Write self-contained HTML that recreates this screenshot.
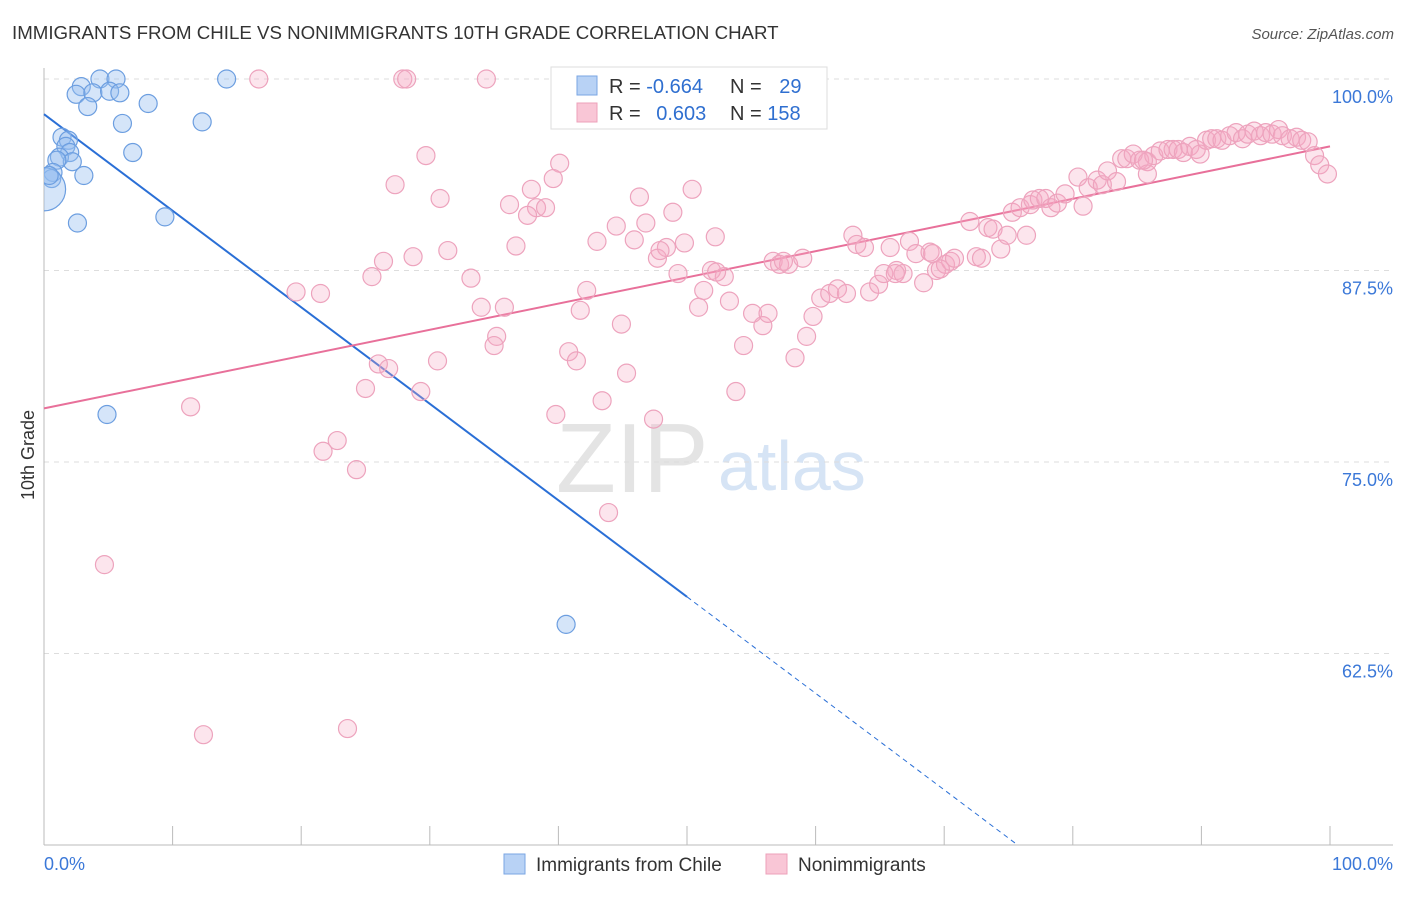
<!DOCTYPE html>
<html><head><meta charset="utf-8"><style>
body{margin:0;background:#fff;font-family:"Liberation Sans",sans-serif;}
svg text{font-family:"Liberation Sans",sans-serif;}
</style></head><body>
<svg id="chart" width="1406" height="892">
<defs><clipPath id="plotclip"><rect x="44" y="0" width="1362" height="845"/></clipPath></defs>
<text x="12" y="39" font-size="18.7" fill="#333">IMMIGRANTS FROM CHILE VS NONIMMIGRANTS 10TH GRADE CORRELATION CHART</text>
<text x="1394" y="39" font-size="15" fill="#555" text-anchor="end" font-style="italic">Source: ZipAtlas.com</text>
<text x="556" y="492" font-size="98" fill="#e4e4e4" font-family="Liberation Serif">ZIP</text>
<text x="718" y="490" font-size="70" fill="#d6e4f5">atlas</text>
<g id="grid"></g><g id="axes"></g><g id="lines"></g><g id="pts" clip-path="url(#plotclip)"></g>
<text transform="translate(34,455) rotate(-90)" font-size="18" fill="#333" text-anchor="middle">10th Grade</text>
<g>
<rect x="551" y="67" width="276" height="62" fill="#fff" stroke="#ddd"/>
<rect x="577" y="76" width="20" height="19" fill="#b8d2f5" stroke="#7aa6e3"/>
<rect x="577" y="103" width="20" height="19" fill="#f9c6d6" stroke="#eda0ba"/>
<text x="609" y="93" font-size="20" fill="#333">R = <tspan fill="#2f6fd0">-0.664</tspan></text>
<text x="730" y="93" font-size="20" fill="#333">N = <tspan fill="#2f6fd0" dx="12">29</tspan></text>
<text x="609" y="120" font-size="20" fill="#333">R = <tspan fill="#2f6fd0" dx="10">0.603</tspan></text>
<text x="730" y="120" font-size="20" fill="#333">N = <tspan fill="#2f6fd0">158</tspan></text>
</g>
<g>
<rect x="504" y="854" width="21" height="20" fill="#b8d2f5" stroke="#7aa6e3"/>
<text x="536" y="871" font-size="19" fill="#333">Immigrants from Chile</text>
<rect x="766" y="854" width="21" height="20" fill="#f9c6d6" stroke="#eda0ba"/>
<text x="798" y="871" font-size="19" fill="#333">Nonimmigrants</text>
</g>
</svg>
<script>
const yTicks=[100,87.5,75,62.5];
const yTickLabels=["100.0%","87.5%","75.0%","62.5%"];
const xTicks=[0,10,20,30,40,50,60,70,80,90,100];
const blueX=[4.35,5.6,14.2,2.9,2.5,3.8,5.1,5.9,3.4,8.1,6.1,12.3,1.4,1.9,1.7,2.0,1.2,2.2,1.0,6.9,0.7,3.1,0.6,9.4,2.6,4.9,40.6,0,0.4];
const blueY=[100,100,100,99.5,99.0,99.1,99.2,99.1,98.2,98.4,97.1,97.2,96.2,96.0,95.6,95.2,94.9,94.6,94.7,95.2,93.9,93.7,93.5,91.0,90.6,78.1,64.4,92.8,93.7];
const blueSize=[1,1,1,1,1,1,1,1,1,1,1,1,1,1,1,1,1,1,1,1,1,1,1,1,1,1,1,2.4,1];
const pinkPts=[[16.7,100],[27.9,100],[28.2,100],[34.4,100],[29.7,95.0],[27.3,93.1],[30.8,92.2],[40.1,94.5],[39.6,93.5],[37.9,92.8],[36.2,91.8],[38.3,91.6],[39.0,91.6],[37.6,91.1],[46.3,92.3],[50.4,92.8],[48.9,91.3],[44.5,90.4],[46.8,90.6],[43.0,89.4],[45.9,89.5],[36.7,89.1],[31.4,88.8],[26.4,88.1],[28.7,88.4],[25.5,87.1],[33.2,87.0],[19.6,86.1],[21.5,86.0],[42.2,86.2],[47.7,88.3],[49.8,89.3],[48.4,89.0],[52.2,89.7],[51.9,87.5],[52.9,87.1],[49.3,87.3],[51.3,86.2],[53.3,85.5],[50.9,85.1],[34.0,85.1],[35.8,85.1],[41.7,84.9],[44.9,84.0],[35.2,83.2],[35.0,82.6],[30.6,81.6],[40.8,82.2],[41.4,81.6],[26.0,81.4],[26.8,81.1],[45.3,80.8],[25.0,79.8],[29.3,79.6],[43.4,79.0],[39.8,78.1],[47.4,77.8],[53.8,79.6],[11.4,78.6],[22.8,76.4],[21.7,75.7],[24.3,74.5],[43.9,71.7],[4.7,68.3],[12.4,57.2],[23.6,57.6],[54.4,82.6],[55.9,83.9],[55.1,84.7],[56.3,84.7],[58.4,81.8],[59.3,83.2],[59.8,84.5],[60.4,85.7],[61.1,86.0],[61.7,86.3],[62.4,86.0],[64.2,86.1],[64.9,86.6],[65.3,87.3],[66.3,87.5],[66.8,87.3],[68.4,86.7],[69.4,87.5],[70.1,87.9],[70.5,88.1],[70.8,88.3],[72.5,88.4],[72.9,88.3],[56.7,88.1],[57.2,87.9],[57.9,87.9],[57.5,88.1],[59.0,88.3],[62.9,89.8],[63.2,89.2],[63.8,89.0],[65.8,89.0],[67.3,89.4],[67.8,88.6],[68.9,88.7],[72.0,90.7],[73.4,90.3],[73.8,90.2],[74.4,88.9],[74.9,89.8],[76.4,89.8],[75.3,91.3],[75.9,91.6],[76.7,91.8],[76.9,92.1],[77.4,92.2],[77.9,92.2],[78.3,91.6],[78.8,91.9],[79.4,92.5],[80.4,93.6],[80.8,91.7],[81.2,92.9],[81.9,93.4],[82.3,93.1],[82.7,94.0],[83.4,93.3],[83.8,94.8],[84.2,94.8],[84.7,95.1],[85.2,94.7],[85.8,94.6],[86.3,95.0],[86.8,95.3],[87.4,95.4],[87.8,95.4],[88.2,95.4],[88.6,95.2],[89.1,95.6],[89.6,95.4],[89.9,95.1],[90.4,96.0],[90.8,96.1],[91.2,96.1],[91.6,96.0],[92.2,96.3],[92.7,96.5],[93.2,96.1],[93.6,96.4],[94.1,96.6],[94.6,96.3],[95.0,96.5],[95.5,96.4],[96.0,96.7],[96.3,96.3],[96.9,96.1],[97.4,96.2],[97.8,96.0],[98.3,95.9],[98.8,95.0],[99.2,94.4],[99.8,93.8],[85.8,93.8],[69.1,88.6],[85.5,94.7],[69.7,87.6],[66.2,87.3],[47.9,88.8],[52.3,87.4]];
const blueTrend=[97.7,-0.63];   // intercept, slope
const pinkTrend=[78.5,0.171];

const X0=44,X1=1330,Y100=79,PXPER=15.32;
const sx=v=>X0+(X1-X0)*v/100;
const sy=v=>Y100+(100-v)*PXPER;
const NS="http://www.w3.org/2000/svg";
function mk(tag,attrs,parent){const e=document.createElementNS(NS,tag);for(const k in attrs)e.setAttribute(k,attrs[k]);document.getElementById(parent).appendChild(e);return e;}

yTicks.forEach((t,i)=>{
 const g=mk('line',{x1:44,x2:1393,y1:sy(t),y2:sy(t),stroke:'#ddd','stroke-dasharray':'5,5'},'grid');
 
 
 const l=mk('text',{x:1393,y:sy(t)+24,'font-size':18,fill:'#3b78d8','text-anchor':'end'},'axes');
 l.textContent=yTickLabels[i];
 
 
});
const ax=mk('line',{x1:44,x2:44,y1:68,y2:845,stroke:'#bbb'},'axes');


const bx=mk('line',{x1:44,x2:1393,y1:845,y2:845,stroke:'#bbb'},'axes');


xTicks.forEach(t=>{
 const k=mk('line',{x1:sx(t),x2:sx(t),y1:826,y2:845,stroke:'#bbb'},'axes');
 
 
});
const xl0=mk('text',{x:44,y:870,'font-size':18,fill:'#3b78d8'},'axes');xl0.textContent='0.0%';


const xl1=mk('text',{x:1393,y:870,'font-size':18,fill:'#3b78d8','text-anchor':'end'},'axes');xl1.textContent='100.0%';



pinkPts.forEach(p=>{
 const c=mk('circle',{cx:sx(p[0]),cy:sy(p[1]),r:9,fill:'rgba(246,170,196,0.3)',stroke:'#eda3bd','stroke-width':1.2},'pts');
 
 
});
blueX.forEach((x,i)=>{
 const c=mk('circle',{cx:sx(x),cy:sy(blueY[i]),r:9*blueSize[i],fill:'rgba(150,190,240,0.4)',stroke:'#6c9ee0','stroke-width':1.2},'pts');
 
 
});
const by=x=>blueTrend[0]+blueTrend[1]*x;
const bSolid=mk('line',{x1:sx(0),y1:sy(by(0)),x2:sx(50),y2:sy(by(50)),stroke:'#2a6fd6','stroke-width':2},'lines');


const xEnd=(50-blueTrend[0])/blueTrend[1];
const bDash=mk('line',{x1:sx(50),y1:sy(by(50)),x2:sx(xEnd),y2:sy(50),stroke:'#2a6fd6','stroke-width':1,'stroke-dasharray':'5,4'},'lines');


const py=x=>pinkTrend[0]+pinkTrend[1]*x;
const pl=mk('line',{x1:sx(0),y1:sy(py(0)),x2:sx(100),y2:sy(py(100)),stroke:'#e8709a','stroke-width':2},'lines');


</script>
</body></html>
